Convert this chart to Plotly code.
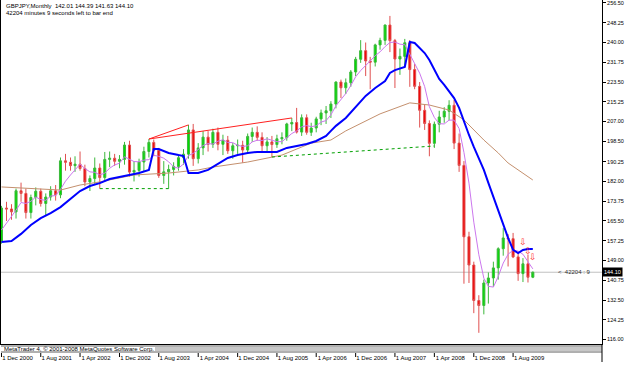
import pandas as pd
import plotly.graph_objects as go

header_line1 = "GBPJPY,Monthly  142.01 144.39 141.63 144.10"
header_line2 = "42204 minutes 9 seconds left to bar end"
footer_text = "MetaTrader 4, © 2001-2008 MetaQuotes Software Corp."
countdown_text = "<  42204 : 9"

opens = [157.1,170.9,170.5,169.3,178.1,177.0,169.0,175.3,177.9,172.8,
         175.5,178.1,176.4,190.6,190.0,188.6,189.2,187.4,181.8,183.2,
         187.6,183.6,191.2,191.7,190.4,191.2,197.2,185.9,186.6,190.1,
         194.5,198.3,195.0,184.5,186.0,187.0,188.2,191.9,193.4,203.5,
         191.5,196.0,200.5,197.5,202.5,197.5,199.2,194.8,196.9,197.1,
         195.1,200.8,202.5,200.4,196.9,198.5,197.4,199.8,200.3,206.0,
         206.6,202.6,208.6,202.5,204.3,208.1,210.6,211.5,214.3,223.5,
         221.1,223.2,227.7,233.0,236.6,232.3,231.8,239.0,240.9,247.3,
         240.8,233.1,234.2,239.9,228.7,221.7,211.7,206.2,197.9,205.9,
         208.9,211.3,213.8,198.0,188.7,158.9,147.1,132.3,130.2,139.6,
         141.7,145.9,153.9,158.4,158.1,150.5,143.5,147.6,142.01]
highs = [171.8,173.5,172.5,179.0,181.5,179.0,176.5,179.5,179.0,177.0,
         180.0,180.5,192.0,193.5,192.0,192.5,194.5,189.0,184.5,192.0,
         189.5,194.3,194.5,193.5,193.0,198.5,199.0,190.5,191.5,196.5,
         199.7,199.5,196.0,190.5,189.0,190.0,193.0,195.5,205.6,206.0,
         198.0,203.0,203.0,204.0,204.5,201.5,201.0,198.0,199.5,199.0,
         202.0,204.5,205.0,202.5,200.5,201.0,201.5,202.5,206.5,208.5,
         212.7,210.0,210.0,206.5,209.0,212.0,213.5,215.5,223.8,224.5,
         225.0,228.5,234.0,241.0,240.0,234.0,239.5,242.0,247.5,251.1,
         241.5,237.5,241.5,241.0,231.0,223.5,214.0,207.5,207.0,211.5,
         213.0,215.9,216.0,202.0,190.5,161.0,148.5,134.5,141.0,144.0,
         148.5,154.5,162.5,160.0,160.5,152.5,150.0,151.5,144.39]
lows = [156.0,165.5,166.0,166.5,173.5,166.5,166.5,172.0,171.5,167.5,
        174.0,174.0,175.0,186.5,186.5,186.0,186.5,180.0,178.0,181.0,
        179.0,182.0,188.0,188.5,187.5,189.0,184.0,182.0,184.0,186.0,
        192.0,192.5,183.5,181.0,179.0,184.5,186.5,189.0,191.5,188.5,
        189.5,193.0,194.5,196.0,195.0,193.0,193.5,191.5,193.5,189.8,
        193.5,198.5,199.0,194.5,194.5,192.2,196.0,197.5,199.0,203.0,
        202.0,201.0,201.5,201.0,202.5,205.5,206.0,208.5,212.5,216.8,
        218.5,221.5,226.0,231.5,226.0,220.5,230.0,237.0,239.0,236.0,
        221.0,226.5,230.0,221.5,220.5,204.5,203.5,192.5,196.0,202.5,
        206.5,207.5,195.5,186.0,139.3,139.6,127.0,118.8,126.5,131.0,
        138.0,141.0,151.0,146.5,150.0,140.5,140.0,139.8,141.63]
closes = [170.9,170.5,169.3,178.1,177.0,169.0,175.3,177.9,172.8,175.5,
          178.1,176.4,190.6,190.0,188.6,189.2,187.4,181.8,183.2,187.6,
          183.6,191.2,191.7,190.4,191.2,197.2,185.9,186.6,190.1,194.5,
          198.3,195.0,184.5,186.0,187.0,188.2,191.9,193.4,203.5,191.5,
          196.0,200.5,197.5,202.5,197.5,199.2,194.8,196.9,197.1,195.1,
          200.8,202.5,200.4,196.9,198.5,197.4,199.8,200.3,206.0,206.6,
          202.6,208.6,202.5,204.3,208.1,210.6,211.5,214.3,223.5,221.1,
          223.2,227.7,233.0,236.6,232.3,231.8,239.0,240.9,247.3,240.8,
          233.1,234.2,239.9,228.7,221.7,211.7,206.2,197.9,205.9,208.9,
          211.3,213.8,198.0,188.7,158.9,147.1,132.3,130.2,139.6,141.7,
          145.9,153.9,158.4,158.1,150.5,143.5,147.6,142.0,144.10]

# fast (violet) average, one value per bar
ma_fast = [161.7,164.5,167.5,170.0,
           173.2,172.8,173.7,175.5,174.4,174.1,175.9,176.1,178.7,182.1,
           184.7,187.0,189.2,187.4,186.0,185.8,184.7,185.5,187.5,188.9,
           189.6,192.3,191.3,190.3,190.2,190.9,191.1,192.9,192.5,191.7,
           190.2,188.1,187.5,189.3,192.8,193.7,195.3,197.0,197.8,197.6,
           198.8,199.4,198.3,198.2,197.1,196.6,196.9,198.5,199.2,199.1,
           199.8,199.1,198.6,198.6,200.4,202.0,203.1,204.8,205.3,204.9,
           205.2,206.8,207.4,209.8,213.6,216.2,218.7,222.0,225.7,228.3,
           230.6,232.3,234.5,236.1,238.3,240.0,240.2,239.3,239.1,235.3,
           231.5,227.2,221.6,213.2,208.7,206.1,206.0,207.6,207.6,204.1,
           194.1,181.3,165.0,151.4,141.6,138.2,137.9,142.3,147.9,151.6,
           153.3,152.9,151.6,148.3,145.5]

# blue average: bar index -> value (read at the bends of the line)
blue_bar = [0,2,4,6,8,10,12,14,16,18,20,22,24,26,28,30,31,32,34,36,37,38,40,42,44,46,48,50,52,
            56,58,60,62,64,66,67,68,70,72,74,76,78,79,80,82,83,84,85,86,87,88,89,90,91,92,93,94,
            95,96,97,98,99,100,101,102,103,104,105,106,107,108]
blue_val = [156.7,157.1,160.1,163.8,166.7,168.8,171.3,174.7,178.0,180.1,181.3,183.0,183.9,184.7,
            185.5,186.8,195.5,195.5,193.9,193.0,192.6,185.5,185.5,186.8,189.3,191.8,193.0,193.9,
            194.3,194.3,196.0,196.8,197.6,198.9,201.0,203.1,205.2,208.5,213.1,217.7,221.0,223.9,
            227.3,228.5,229.8,240.2,239.8,237.7,235.6,232.7,229.0,224.8,222.3,219.8,216.8,212.7,
            206.8,201.4,196.4,191.8,186.8,181.4,175.5,169.7,163.9,158.4,153.4,152.1,153.4,153.8,
            153.8]

# slow (brown) average
slow_bar = [0,4,12,16,20,27,34,40,43,50,57,63,67,70,77,83,87,91,94,98,101,103,105,108]
slow_val = [179.7,179.3,178.4,180.5,181.8,184.7,185.5,186.8,188.0,190.1,193.0,198.0,199.3,
            203.1,210.2,214.8,213.9,211.8,207.7,199.3,193.9,189.7,186.8,182.6]

# hand-drawn trend lines
red_line1_bar = [30, 38]
red_line1_val = [199.7, 205.6]
red_line2_bar = [30, 59]
red_line2_val = [199.7, 208.5]
green_line1_bar = [20, 34]
green_line1_val = [179.0, 179.0]
green_line2_bar = [55, 88]
green_line2_val = [192.2, 196.8]

# fractal arrows
arrow_bar = [106, 107, 108]
arrow_val = [156.2, 152.7, 150.0]

y_tickvals = [256.5,248.25,240.0,231.75,223.5,215.25,207.0,198.75,190.25,182.0,
              173.75,165.5,157.25,149.0,140.75,132.5,124.25,116.0]
y_ticktext = ["256.50","248.25","240.00","231.75","223.50","215.25","207.00","198.50","190.25",
              "182.00","173.75","165.50","157.25","149.00","140.75","132.50","124.25","116.00"]
x_tickvals = ["2000-12-01","2001-08-01","2002-04-01","2002-12-01","2003-08-01","2004-04-01",
              "2004-12-01","2005-08-01","2006-04-01","2006-12-01","2007-08-01","2008-04-01",
              "2008-12-01","2009-08-01"]
x_ticktext = ["1 Dec 2000","1 Aug 2001","1 Apr 2002","1 Dec 2002","1 Aug 2003","1 Apr 2004",
              "1 Dec 2004","1 Aug 2005","1 Apr 2006","1 Dec 2006","1 Aug 2007","1 Apr 2008",
              "1 Dec 2008","1 Aug 2009"]

dates = pd.date_range("2000-12-01", periods=len(closes), freq="MS")

def at(bars):
    return [dates[b] for b in bars]

W, H = 625, 365
ML, MR, MT, MB = 1, 23, 0, 21
PW, PH = W - ML - MR, H - MT - MB
def px(x):
    return (x - ML) / PW
def py(y):
    return 1 - (y - MT) / PH

FONT = "Liberation Sans"

fig = go.Figure()
fig.add_trace(go.Candlestick(
    x=dates, open=opens, high=highs, low=lows, close=closes,
    increasing=dict(fillcolor="#00dd00", line=dict(color="#3cb83c", width=1)),
    decreasing=dict(fillcolor="#ee0000", line=dict(color="#e05050", width=1)),
    whiskerwidth=0, showlegend=False, hoverinfo="skip"))

fig.add_trace(go.Scatter(x=at(slow_bar), y=slow_val, mode="lines",
                         line=dict(color="#c4906e", width=1), hoverinfo="skip", showlegend=False))
fig.add_trace(go.Scatter(x=dates, y=ma_fast, mode="lines",
                         line=dict(color="#cc77ee", width=1), hoverinfo="skip", showlegend=False))
fig.add_trace(go.Scatter(x=at(blue_bar), y=blue_val, mode="lines",
                         line=dict(color="#0000ff", width=2), hoverinfo="skip", showlegend=False))
for bx, bv in [(red_line1_bar, red_line1_val), (red_line2_bar, red_line2_val)]:
    fig.add_trace(go.Scatter(x=at(bx), y=bv, mode="lines",
                             line=dict(color="#ff2020", width=1), hoverinfo="skip", showlegend=False))
for bx, bv in [(green_line1_bar, green_line1_val), (green_line2_bar, green_line2_val)]:
    fig.add_trace(go.Scatter(x=at(bx), y=bv, mode="lines",
                             line=dict(color="#00a000", width=1, dash="dot"),
                             hoverinfo="skip", showlegend=False))
fig.add_trace(go.Scatter(x=at(arrow_bar), y=arrow_val, mode="text", text=["⇩"] * len(arrow_bar),
                         textfont=dict(color="#ff3030", size=9, family="DejaVu Sans"),
                         hoverinfo="skip", showlegend=False))

last_price = closes[-1]
shapes = [
    dict(type="line", xref="paper", yref="y", x0=0, x1=1, y0=last_price, y1=last_price,
         line=dict(color="#c0c0c0", width=1), layer="below"),
    # status strip under the chart
    dict(type="line", xref="paper", yref="paper", x0=0, x1=1, y0=py(346), y1=py(346),
         line=dict(color="#606060", width=1)),
    dict(type="line", xref="paper", yref="paper", x0=px(155), x1=1, y0=py(348), y1=py(348),
         line=dict(color="#909090", width=1)),
    dict(type="line", xref="paper", yref="paper", x0=px(155), x1=1, y0=py(350), y1=py(350),
         line=dict(color="#909090", width=1)),
    dict(type="line", xref="paper", yref="paper", x0=0, x1=1, y0=py(352), y1=py(352),
         line=dict(color="#606060", width=1)),
    dict(type="line", xref="paper", yref="paper", x0=1, x1=1, y0=0, y1=py(362),
         line=dict(color="#000000", width=1)),
]
for tv in x_tickvals:
    shapes.append(dict(type="line", xref="x", yref="paper", x0=tv, x1=tv, y0=py(353), y1=py(357),
                       line=dict(color="#000000", width=1)))

annotations = [
    dict(text=header_line1, xref="paper", yref="paper", x=px(4), y=py(6), xanchor="left",
         yanchor="middle", showarrow=False, font=dict(family=FONT, size=6, color="#000000")),
    dict(text=header_line2, xref="paper", yref="paper", x=px(4), y=py(13.5), xanchor="left",
         yanchor="middle", showarrow=False, font=dict(family=FONT, size=6, color="#000000")),
    dict(text=footer_text, xref="paper", yref="paper", x=px(2), y=py(349), xanchor="left",
         yanchor="middle", showarrow=False, font=dict(family=FONT, size=6, color="#000000")),
    dict(text=countdown_text, xref="paper", yref="y", x=px(556), y=last_price, xanchor="left",
         yanchor="middle", showarrow=False, font=dict(family=FONT, size=6, color="#303030")),
    dict(text="%.2f" % last_price, xref="paper", yref="y", x=1, y=last_price, xanchor="left",
         yanchor="middle", showarrow=False, bgcolor="#000000", borderpad=1,
         font=dict(family=FONT, size=5.5, color="#ffffff")),
]

fig.update_layout(
    width=W, height=H, margin=dict(l=ML, r=MR, t=MT, b=MB, pad=0),
    paper_bgcolor="#ffffff", plot_bgcolor="#ffffff", showlegend=False, boxgap=0.35,
    font=dict(family=FONT, size=6, color="#000000"),
    shapes=shapes, annotations=annotations,
    xaxis=dict(type="date", range=["2000-11-28", "2011-02-02"], rangeslider=dict(visible=False),
               showgrid=False, zeroline=False, showline=True, mirror=True, linecolor="#000000",
               linewidth=1, ticks="", tickvals=x_tickvals, ticktext=x_ticktext,
               tickfont=dict(family=FONT, size=6, color="#000000"),
               ticklabelstandoff=8, ticklabelshift=16, ticklabeloverflow="allow"),
    yaxis=dict(range=[114.13, 257.75], side="right", showgrid=False, zeroline=False,
               showline=True, mirror=True, linecolor="#000000", linewidth=1,
               ticks="outside", ticklen=3, tickcolor="#000000",
               tickvals=y_tickvals, ticktext=y_ticktext, ticklabeloverflow="allow",
               tickfont=dict(family=FONT, size=5.5, color="#000000")),
)

fig.write_html("out.html", config={"displayModeBar": False})
